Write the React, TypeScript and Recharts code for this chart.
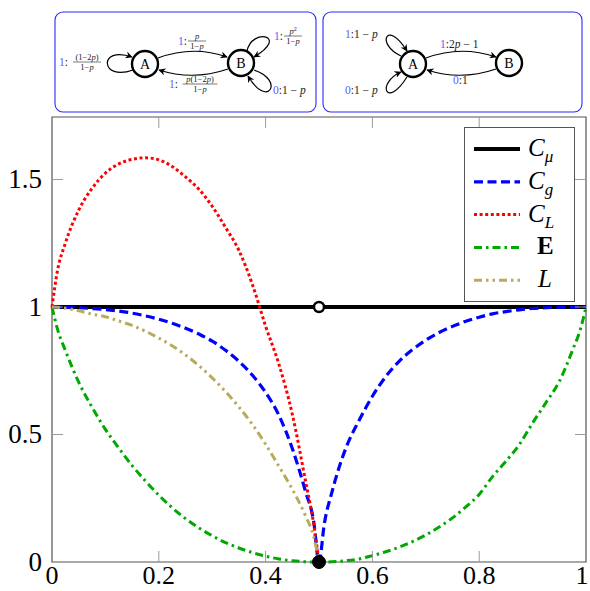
import React from 'react';
import { LineChart, Line, XAxis, YAxis, ReferenceArea, ReferenceDot, Legend } from 'recharts';

// shared p grid (denser around the cusp at 0.5)
const pGrid = [
  0, 0.01, 0.025, 0.05, 0.075, 0.1, 0.125, 0.15, 0.175, 0.2, 0.225, 0.25, 0.275, 0.3, 0.325,
  0.35, 0.375, 0.4, 0.425, 0.45, 0.475, 0.49, 0.5, 0.51, 0.525, 0.55, 0.575, 0.6, 0.625, 0.65,
  0.675, 0.7, 0.725, 0.75, 0.775, 0.8, 0.825, 0.85, 0.875, 0.9, 0.925, 0.95, 0.975, 0.99, 1,
];

const cMu = [
  1, 1, 1, 1, 1, 1, 1, 1, 1, 1, 1, 1, 1, 1, 1,
  1, 1, 1, 1, 1, 1, 1, 1, 1, 1, 1, 1, 1, 1, 1,
  1, 1, 1, 1, 1, 1, 1, 1, 1, 1, 1, 1, 1, 1, 1,
];

const cG = [
  1, 1, 0.999, 0.997, 0.994, 0.99, 0.984, 0.976, 0.965, 0.952, 0.936, 0.917, 0.894, 0.866, 0.83,
  0.787, 0.733, 0.665, 0.575, 0.445, 0.275, 0.16, 0, 0.15, 0.28, 0.445, 0.555, 0.65, 0.727, 0.787,
  0.833, 0.87, 0.9, 0.924, 0.944, 0.96, 0.973, 0.982, 0.989, 0.994, 0.997, 0.999, 1, 1, 1,
];

const cL = [
  1, 1.14, 1.25, 1.38, 1.465, 1.525, 1.561, 1.579, 1.585, 1.577, 1.551, 1.51, 1.462, 1.395, 1.312,
  1.222, 1.09, 0.925, 0.775, 0.58, 0.315, 0.15, 0, null, null, null, null, null, null, null,
  null, null, null, null, null, null, null, null, null, null, null, null, null, null, null,
];

const excessE = [
  1, 0.915, 0.83, 0.705, 0.607, 0.52, 0.447, 0.378, 0.318, 0.262, 0.213, 0.17, 0.134, 0.103, 0.076,
  0.055, 0.037, 0.023, 0.012, 0.005, 0.001, 0, 0, 0, 0.001, 0.005, 0.012, 0.025, 0.04, 0.058,
  0.08, 0.106, 0.137, 0.173, 0.216, 0.265, 0.335, 0.395, 0.46, 0.545, 0.625, 0.708, 0.832, 0.916, 1,
];

const lVals = [
  1, 0.999, 0.995, 0.985, 0.972, 0.962, 0.945, 0.928, 0.905, 0.878, 0.848, 0.812, 0.77, 0.722, 0.668,
  0.608, 0.54, 0.462, 0.375, 0.285, 0.18, 0.1, 0, null, null, null, null, null, null, null,
  null, null, null, null, null, null, null, null, null, null, null, null, null, null, null,
];

const xTicks = [0, 0.2, 0.4, 0.6, 0.8, 1];
const yTicks = [0, 0.5, 1, 1.5];

const rows = pGrid.map((p, i) => ({
  p,
  cmu: cMu[i],
  cg: cG[i],
  cl: cL[i],
  e: excessE[i],
  l: lVals[i],
}));

const W = 590;
const H = 591;
const TOP = 117;
const RIGHT = 4;
const YW = 52;
const XH = 29;
const PW = W - YW - RIGHT;
const PH = H - TOP - XH;
const Y_MAX = 1.745;

const FONT = '"Liberation Serif", "DejaVu Serif", serif';
const TICK_GRAY = '#9a9a9a';
const FRAME = '#555';
const LBL_BLUE = '#5a5aff';

const series = [
  { key: 'cmu', color: '#000000', width: 4, dash: undefined },
  { key: 'cg', color: '#0000ff', width: 3.2, dash: '9 4.5' },
  { key: 'cl', color: '#ff0000', width: 3, dash: '3 2.6' },
  { key: 'e', color: '#00a800', width: 3, dash: '8 4 2.5 4' },
  { key: 'l', color: '#b8ab5d', width: 3, dash: '8 4 2.5 4 2.5 4' },
];

const fmt = (v: number) => String(v);

function XTick(props: any) {
  const { x, y, payload } = props;
  const v = payload.value;
  const edge = v === 0 || v === 1;
  // keep the last label inside the page
  const tx = Math.min(x, W - 8);
  return (
    <g>
      {!edge && <line x1={x} x2={x} y1={y} y2={y - 11} stroke={TICK_GRAY} strokeWidth={1} />}
      {!edge && <line x1={x} x2={x} y1={y - PH} y2={y - PH + 11} stroke={TICK_GRAY} strokeWidth={1} />}
      <text x={tx} y={y + 22} textAnchor="middle" fontFamily={FONT} fontSize={26} fill="#000">
        {fmt(v)}
      </text>
    </g>
  );
}

function YTick(props: any) {
  const { x, y, payload } = props;
  const v = payload.value;
  const edge = v === 0;
  return (
    <g>
      {!edge && <line x1={x} x2={x + 11} y1={y} y2={y} stroke={TICK_GRAY} strokeWidth={1} />}
      {!edge && <line x1={x + PW} x2={x + PW - 11} y1={y} y2={y} stroke={TICK_GRAY} strokeWidth={1} />}
      <text x={x - 10} y={y + 9} textAnchor="end" fontFamily={FONT} fontSize={27} fill="#000">
        {fmt(v)}
      </text>
    </g>
  );
}

const legendLabels: Record<string, React.ReactNode> = {
  cmu: (
    <>
      <tspan fontStyle="italic">C</tspan>
      <tspan fontStyle="italic" fontSize={17} dy={6}>μ</tspan>
    </>
  ),
  cg: (
    <>
      <tspan fontStyle="italic">C</tspan>
      <tspan fontStyle="italic" fontSize={17} dy={6}>g</tspan>
    </>
  ),
  cl: (
    <>
      <tspan fontStyle="italic">C</tspan>
      <tspan fontStyle="italic" fontSize={17} dy={6}>L</tspan>
    </>
  ),
  e: <tspan fontWeight="bold" dx={9}>E</tspan>,
  l: <tspan fontStyle="italic" dx={10}>L</tspan>,
};

function LegendBox() {
  return (
    <div style={{ width: 111, height: 175, border: `1px solid ${FRAME}`, background: '#fff', boxSizing: 'border-box' }}>
      <svg width={109} height={173} style={{ display: 'block' }}>
        {series.map((s, i) => {
          const cy = 21 + i * 32.8;
          return (
            <g key={s.key}>
              <line x1={9} x2={55} y1={cy} y2={cy} stroke={s.color} strokeWidth={s.width} strokeDasharray={s.dash} />
              <text x={63} y={cy + 7} fontFamily={FONT} fontSize={25} fill="#000">
                {legendLabels[s.key]}
              </text>
            </g>
          );
        })}
      </svg>
    </div>
  );
}

const P = () => <tspan fontStyle="italic">p</tspan>;

function Frac({ x, y, w, num, den }: { x: number; y: number; w: number; num: React.ReactNode; den: React.ReactNode }) {
  return (
    <g fontSize={8.5} fontFamily={FONT} fill="#222">
      <text x={x} y={y - 2} textAnchor="middle">{num}</text>
      <line x1={x - w / 2} x2={x + w / 2} y1={y} y2={y} stroke="#222" strokeWidth={0.6} />
      <text x={x} y={y + 7.5} textAnchor="middle">{den}</text>
    </g>
  );
}

function State({ cx, cy, name }: { cx: number; cy: number; name: string }) {
  return (
    <g>
      <circle cx={cx} cy={cy} r={13} fill="#fff" stroke="#000" strokeWidth={2.4} />
      <text x={cx} y={cy + 5} textAnchor="middle" fontFamily={FONT} fontSize={14}>{name}</text>
    </g>
  );
}

function Lbl({ x, y, sym, rest }: { x: number; y: number; sym: string; rest?: React.ReactNode }) {
  return (
    <text x={x} y={y} fontFamily={FONT} fontSize={11.5} fill="#222">
      <tspan fill={LBL_BLUE}>{sym}</tspan>
      <tspan>:</tspan>
      {rest}
    </text>
  );
}

function Diagrams() {
  const arrow = { fill: 'none', stroke: '#000', strokeWidth: 1.2, markerEnd: 'url(#arh)' };
  return (
    <svg width={W} height={116} style={{ position: 'absolute', left: 0, top: 0 }}>
      <defs>
        <marker id="arh" viewBox="0 0 10 10" refX="9" refY="5" markerWidth="7" markerHeight="7" markerUnits="userSpaceOnUse" orient="auto">
          <path d="M0,0 L10,5 L0,10 L3,5 z" fill="#000" />
        </marker>
      </defs>

      {/* left machine */}
      <rect x={55} y={12} width={261} height={100} rx={8} fill="#fff" stroke="#2a2aff" strokeWidth={1.1} />
      <path d="M 133 70 C 100 82, 98 45, 132 57" {...arrow} />
      <path d="M 158 58 Q 193 45 227 57" {...arrow} />
      <path d="M 228 69 Q 193 81 159 70" {...arrow} />
      <path d="M 247 51 C 252 27, 290 36, 254 57" {...arrow} />
      <path d="M 254 70 C 285 80, 268 110, 248 76" {...arrow} />
      <State cx={145} cy={64} name="A" />
      <State cx={241} cy={63} name="B" />
      <Lbl x={59} y={66} sym="1" />
      <Frac x={87} y={62} w={28} num={<>(1−2<P />)</>} den={<>1−<P /></>} />
      <Lbl x={178} y={45} sym="1" />
      <Frac x={197} y={41} w={18} num={<P />} den={<>1−<P /></>} />
      <Lbl x={169} y={88} sym="1" />
      <Frac x={200} y={84} w={35} num={<><P />(1−2<P />)</>} den={<>1−<P /></>} />
      <Lbl x={274} y={40} sym="1" />
      <Frac x={293} y={36} w={18} num={<><P /><tspan fontSize={6} dy={-3}>2</tspan></>} den={<>1−<P /></>} />
      <Lbl x={273} y={94} sym="0" rest={<>1 − <P /></>} />

      {/* right machine */}
      <rect x={323} y={12} width={259} height={100} rx={8} fill="#fff" stroke="#2a2aff" strokeWidth={1.1} />
      <path d="M 401 56 C 376 45, 386 18, 407 51" {...arrow} />
      <path d="M 407 77 C 386 110, 376 83, 401 72" {...arrow} />
      <path d="M 426 58 Q 461 45 496 57" {...arrow} />
      <path d="M 496 69 Q 461 81 427 70" {...arrow} />
      <State cx={413} cy={64} name="A" />
      <State cx={509} cy={63} name="B" />
      <Lbl x={345} y={38} sym="1" rest={<>1 − <P /></>} />
      <Lbl x={345} y={94} sym="0" rest={<>1 − <P /></>} />
      <Lbl x={440} y={48} sym="1" rest={<>2<P /> − 1</>} />
      <Lbl x={453} y={84} sym="0" rest={<>1</>} />
    </svg>
  );
}

export default function App() {
  return (
    <div style={{ position: 'absolute', left: 0, top: 0, width: W, height: H, background: '#fff' }}>
      <Diagrams />
      <div style={{ position: 'absolute', left: 0, top: 0 }}>
        <LineChart width={W} height={H} data={rows} margin={{ top: TOP, right: RIGHT, bottom: 0, left: 0 }}>
          <XAxis
            dataKey="p"
            type="number"
            domain={[0, 1]}
            ticks={xTicks}
            interval={0}
            height={XH}
            tickSize={0}
            tickMargin={0}
            tickLine={false}
            axisLine={false}
            tick={<XTick />}
          />
          <YAxis
            type="number"
            domain={[0, Y_MAX]}
            ticks={yTicks}
            interval={0}
            width={YW}
            tickSize={0}
            tickMargin={0}
            tickLine={false}
            axisLine={false}
            tick={<YTick />}
          />
          <ReferenceArea x1={0} x2={1} y1={0} y2={Y_MAX} fill="none" stroke={FRAME} strokeWidth={1.2} />
          {series.map((s) => (
            <Line
              key={s.key}
              dataKey={s.key}
              type="monotone"
              stroke={s.color}
              strokeWidth={s.width}
              strokeDasharray={s.dash}
              dot={false}
              activeDot={false}
              connectNulls={false}
              isAnimationActive={false}
            />
          ))}
          <ReferenceDot x={0.5} y={1} r={5} fill="#fff" stroke="#000" strokeWidth={2.5} />
          <ReferenceDot x={0.5} y={0} r={6.5} fill="#000" stroke="#000" strokeWidth={1} />
          <Legend
            layout="vertical"
            align="center"
            verticalAlign="middle"
            content={() => <LegendBox />}
            wrapperStyle={{ left: 464, top: 127, width: 111, height: 175 }}
          />
        </LineChart>
      </div>
    </div>
  );
}
